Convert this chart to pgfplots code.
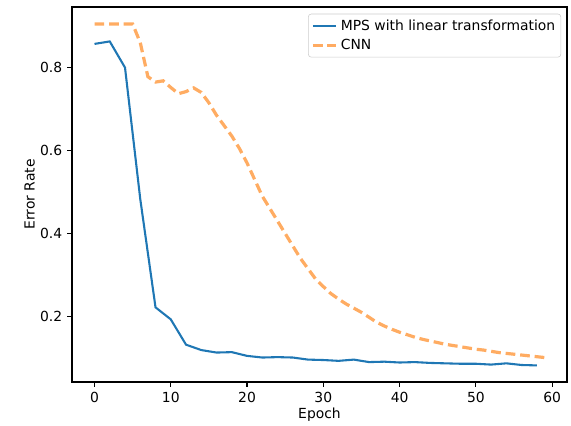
\documentclass[border=0pt]{standalone}
\usepackage{fontspec}
\setmainfont{DejaVu Sans}
\usepackage{pgfplots}
\pgfplotsset{compat=1.18}
\definecolor{mplblue}{HTML}{1F77B4}
\definecolor{mplorange}{HTML}{FF7F0E}
\begin{document}
\begin{tikzpicture}
\useasboundingbox (-51.84pt,-30.96pt) rectangle (359.28pt,275.04pt);
\begin{axis}[
  at={(0,0)}, anchor=south west,
  scale only axis,
  width=356.4pt, height=270pt,
  xmin=-2.95, xmax=61.95,
  ymin=0.042, ymax=0.946,
  xtick={0,10,20,30,40,50,60},
  ytick={0.2,0.4,0.6,0.8},
  yticklabel style={/pgf/number format/fixed,/pgf/number format/precision=1,/pgf/number format/fixed zerofill},
  /pgf/number format/assume math mode=true,
  tick align=outside,
  major tick length=3.5pt,
  tick style={black, line width=0.8pt},
  xtick pos=bottom, ytick pos=left,
  axis line style={line width=0.8pt},
  ticklabel style={font=\fontsize{10}{12}\selectfont},
  xlabel={Epoch}, ylabel={Error Rate},
  label style={font=\fontsize{10}{12}\selectfont},
  xlabel style={yshift=3pt},
  ylabel style={yshift=-3pt},
  legend style={at={(0.988,0.982)}, anchor=north east, draw=black!20, rounded corners=2pt,
    font=\fontsize{10}{12}\selectfont, inner sep=2pt, row sep=1pt, fill=white, fill opacity=0.8, text opacity=1},
  legend cell align=left,
]
\addplot[mplblue, line width=1.5pt] coordinates {
(0,0.857) (2,0.863) (4,0.800) (6,0.483) (8,0.222) (10,0.193) (12,0.132) (14,0.119)
(16,0.113) (18,0.114) (20,0.105) (22,0.101) (24,0.102) (26,0.101) (28,0.096)
(30,0.095) (32,0.093) (34,0.096) (36,0.090) (38,0.091) (40,0.089) (42,0.090)
(44,0.088) (46,0.087) (48,0.086) (50,0.086) (52,0.084) (54,0.087) (56,0.083) (58,0.082)
};
\addlegendentry{MPS with linear transformation}
\addplot[mplorange, opacity=0.65, line width=2.3pt, dash pattern=on 7pt off 3.5pt] coordinates {
(0,0.905) (1,0.905) (2,0.905) (3,0.905) (4,0.905) (5,0.905) (6,0.860) (7,0.778)
(8,0.765) (9,0.768) (10,0.752) (11,0.737) (12,0.742) (13,0.751) (14,0.740)
(15,0.715) (16,0.685) (17,0.660) (18,0.635) (19,0.605) (20,0.570) (21,0.530)
(22,0.490) (23,0.460) (24,0.430) (25,0.400) (26,0.370) (27,0.340) (28,0.315)
(29,0.290) (30,0.272) (31,0.255) (32,0.242) (33,0.230) (34,0.220) (35,0.210)
(36,0.198) (37,0.186) (38,0.177) (39,0.169) (40,0.162) (41,0.156) (42,0.150)
(43,0.145) (44,0.141) (45,0.137) (46,0.133) (47,0.130) (48,0.127) (49,0.124)
(50,0.121) (51,0.119) (52,0.116) (53,0.113) (54,0.111) (55,0.109) (56,0.107)
(57,0.105) (58,0.103) (59,0.101)
};
\addlegendentry{CNN}
\end{axis}
\end{tikzpicture}
\end{document}
